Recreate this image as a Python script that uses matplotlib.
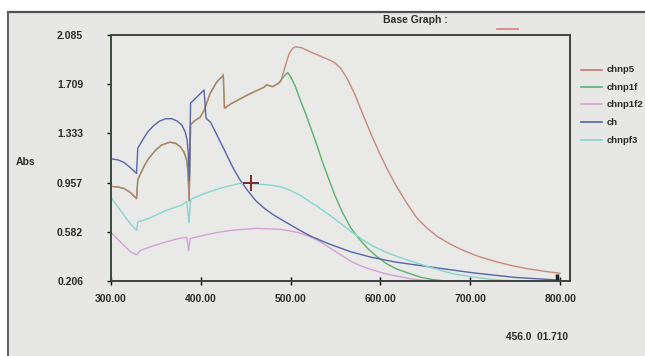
import numpy as np
import matplotlib
matplotlib.use("Agg")
import matplotlib.pyplot as plt
from matplotlib.lines import Line2D
from matplotlib.patches import Rectangle

plt.rcParams['font.family'] = ['Liberation Sans', 'DejaVu Sans']

# wavelength (nm) / absorbance
# chnp5 and chnp1f run together up to ~480 nm
wl_chnp5 = [300, 307.8, 314.7, 321.6, 328.4, 329.8, 333, 337.6, 342.2, 349.1, 356, 365.1, 372,
            377.5, 381.2, 384.4, 385.8, 387.0, 388.6, 393.0, 399.1, 403.6, 410.2, 417.7, 423.3,
            425.0, 426.3, 433.9, 452.3, 470.6, 473, 480, 485.3, 489, 493.6, 498.2, 501.9, 505,
            511.9, 525.7, 539.4, 548.6, 555.5, 562.4, 571.6, 580.7, 589.9, 599.1, 608.3, 617.4,
            628.9, 640.4, 651.8, 663.3, 677.1, 690.8, 709.2, 727.5, 745.9, 764.2, 782.6, 798.6, 800]
ab_chnp5 = [0.929, 0.924, 0.912, 0.882, 0.836, 0.98, 1.028, 1.093, 1.144, 1.201, 1.243, 1.266, 1.258,
            1.229, 1.191, 1.126, 1.024, 0.818, 1.40, 1.43, 1.456, 1.508, 1.636, 1.726, 1.765,
            1.785, 1.525, 1.561, 1.628, 1.687, 1.704, 1.69, 1.71, 1.73, 1.838, 1.94, 1.981, 1.995,
            1.988, 1.945, 1.906, 1.876, 1.832, 1.759, 1.63, 1.474, 1.322, 1.18, 1.05, 0.933,
            0.805, 0.688, 0.61, 0.546, 0.49, 0.444, 0.393, 0.356, 0.324, 0.299, 0.28, 0.266, 0.265]

wl_chnp1f = [300, 307.8, 314.7, 321.6, 328.4, 329.8, 333, 337.6, 342.2, 349.1, 356, 365.1, 372,
             377.5, 381.2, 384.4, 385.8, 387.0, 388.6, 393.0, 399.1, 403.6, 410.2, 417.7, 423.3,
             425.0, 426.3, 433.9, 452.3, 470.6, 473, 480, 486.9, 493.7, 496.8, 500.4, 505, 511.9,
             516.5, 521.1, 528, 534.9, 541.7, 548.6, 557.8, 567, 576.1, 585.3, 594.5, 606, 617.4,
             631.2, 645, 658.7, 672.5, 690, 720, 760, 800]
ab_chnp1f = [0.929, 0.924, 0.912, 0.882, 0.836, 0.98, 1.028, 1.093, 1.144, 1.201, 1.243, 1.266, 1.258,
             1.229, 1.191, 1.126, 1.024, 0.818, 1.40, 1.43, 1.456, 1.508, 1.636, 1.726, 1.765,
             1.770, 1.525, 1.561, 1.628, 1.687, 1.704, 1.69, 1.72, 1.779, 1.799, 1.76, 1.696, 1.566,
             1.489, 1.399, 1.269, 1.126, 0.998, 0.871, 0.728, 0.612, 0.529, 0.458, 0.401, 0.342, 0.299,
             0.266, 0.234, 0.216, 0.207, 0.201, 0.2, 0.2, 0.2]

wl_chnp1f2 = [300, 307.8, 314.7, 321.6, 328.4, 333, 346.8, 360.6, 374.3, 384.4, 386.4, 388.2,
              406.4, 420.2, 433.9, 461.5, 489, 507.3, 516.5, 525.7, 534.9, 544, 555.5, 567,
              578.4, 589.9, 603.7, 617.4, 635.8, 654, 700, 800]
ab_chnp1f2 = [0.577, 0.522, 0.476, 0.431, 0.406, 0.44, 0.474, 0.503, 0.529, 0.54, 0.438, 0.531,
              0.56, 0.579, 0.593, 0.608, 0.601, 0.578, 0.558, 0.532, 0.497, 0.457, 0.407, 0.356,
              0.321, 0.293, 0.265, 0.244, 0.22, 0.206, 0.2, 0.198]

wl_ch = [300, 307.8, 314.7, 321.6, 328.4, 329.8, 335.3, 340.8, 346.8, 353.7, 360.6, 367.4, 373.4,
         378.9, 382.6, 384.8, 386.0, 387.1, 388.6, 397.2, 403.6, 405.8, 411, 415.6, 422.5, 429.4,
         436.2, 443.1, 452.3, 461.5, 470.6, 479.8, 489, 498.2, 509.6, 521.1, 532.6, 544, 567,
         589.9, 617.4, 658.7, 704.6, 750.5, 798.6, 800]
ab_ch = [1.139, 1.131, 1.111, 1.071, 1.028, 1.22, 1.284, 1.344, 1.388, 1.426, 1.445, 1.446, 1.429,
         1.396, 1.345, 1.281, 1.177, 0.972, 1.564, 1.622, 1.665, 1.45, 1.416, 1.353, 1.258, 1.161,
         1.066, 0.984, 0.895, 0.817, 0.762, 0.716, 0.678, 0.641, 0.596, 0.552, 0.518, 0.486, 0.429,
         0.387, 0.35, 0.31, 0.267, 0.233, 0.213, 0.212]

wl_chnpf3 = [300, 307.8, 314.7, 321.6, 328.4, 329.8, 342.2, 360.6, 378.9, 384.4, 386.8, 388.6,
             406.4, 420.2, 433.9, 443.1, 452.3, 461.5, 470.6, 479.8, 489, 498.2, 509.6, 521.1,
             532.6, 544, 555.5, 567, 578.4, 589.9, 603.7, 617.4, 635.8, 654.1, 681.7, 704.6,
             727.5, 773.4, 800]
ab_chnpf3 = [0.845, 0.77, 0.706, 0.644, 0.593, 0.657, 0.684, 0.743, 0.787, 0.813, 0.651, 0.831,
             0.88, 0.912, 0.936, 0.951, 0.954, 0.947, 0.943, 0.936, 0.925, 0.903, 0.864, 0.813,
             0.762, 0.706, 0.647, 0.586, 0.53, 0.479, 0.433, 0.396, 0.353, 0.313, 0.259, 0.236,
             0.215, 0.2, 0.198]

legend_labels = ['chnp5', 'chnp1f', 'chnp1f2', 'ch', 'chnpf3']
colors = ['#c07a68', '#5cb070', '#d4a2d2', '#5565a8', '#86d6cc']

yticks = [0.206, 0.582, 0.957, 1.333, 1.709, 2.085]
xticks = [300, 400, 500, 600, 700, 800]
cursor = (456.0, 0.955)
cursor_readout = 1.710
marker_end = (796, 0.225)

W, H = 645, 356
fig = plt.figure(figsize=(W / 100, H / 100), dpi=100, facecolor='white')
fig.add_artist(Rectangle((8 / W, 0), 1, 1 - 12 / H, transform=fig.transFigure,
                         facecolor='#e7e7e5', edgecolor='none', zorder=0))
fig.add_artist(Line2D([8 / W, 1], [1 - 12 / H, 1 - 12 / H], color='#505050', lw=1.6))
fig.add_artist(Line2D([8 / W, 8 / W], [0, 1 - 12 / H], color='#606060', lw=1.4))

ax = fig.add_axes([111 / W, 1 - 281 / H, (570 - 111) / W, (281 - 35) / H])
ax.set_facecolor('#e9e9e7')

data = {'chnp5': (wl_chnp5, ab_chnp5), 'chnp1f': (wl_chnp1f, ab_chnp1f),
        'chnp1f2': (wl_chnp1f2, ab_chnp1f2), 'ch': (wl_ch, ab_ch), 'chnpf3': (wl_chnpf3, ab_chnpf3)}
# green under the brown one so the shared part looks olive like on the screen
for nm in ['chnp1f', 'chnp5', 'chnp1f2', 'ch', 'chnpf3']:
    k = legend_labels.index(nm)
    x, y = data[nm]
    ax.plot(x, y, color=colors[k], lw=1.0, alpha=0.85 if nm == 'chnp5' else 1.0)

ax.plot(*cursor, marker='+', ms=12, mew=1.4, color='#7a2a2a')
ax.plot(*marker_end, marker='|', ms=7, mew=2.5, color='#202020')

ax.set_xlim(300, 811)
ax.set_ylim(0.206, 2.085)
ax.set_xticks(xticks)
ax.set_xticklabels(['%.2f' % v for v in xticks])
ax.set_yticks(yticks)
ax.set_yticklabels(['%.3f' % v for v in yticks])
ax.tick_params(axis='y', direction='out', length=3, width=1, pad=17, labelsize=7.5)
ax.tick_params(axis='x', direction='inout', length=6, width=1, pad=6, labelsize=7.5)
for lab in ax.get_xticklabels() + ax.get_yticklabels():
    lab.set_fontweight('bold')
    lab.set_color('#2a2a2a')
for s in ax.spines.values():
    s.set_color('#404040')
    s.set_linewidth(1.4)
ax.spines['left'].set_color('#3a4a3a')

fig.text(26 / W, 1 - 162 / H, 'Abs', fontsize=7.5, fontweight='bold', color='#2a2a2a',
         ha='center', va='center')
fig.text(415 / W, 1 - 20 / H, 'Base Graph :', fontsize=7.5, fontweight='bold', color='#2a2a2a',
         ha='center', va='center')
fig.add_artist(Line2D([497 / W, 518 / W], [1 - 29 / H, 1 - 29 / H], color='#d88080', lw=1.2))

rows = [70, 87, 104, 122, 140]
for k, nm in enumerate(legend_labels):
    yy = 1 - rows[k] / H
    fig.add_artist(Line2D([581 / W, 602 / W], [yy, yy], color=colors[k], lw=1.2))
    fig.text(607 / W, yy, nm, fontsize=6.8, fontweight='bold', color='#2a2a2a',
             ha='left', va='center')

fig.text(568 / W, 1 - 337 / H, '%.1f  %06.3f' % (cursor[0], cursor_readout), fontsize=7.3,
         fontweight='bold', color='#2a2a2a', ha='right', va='center')

fig.savefig('out.png', dpi=100, facecolor=fig.get_facecolor())
